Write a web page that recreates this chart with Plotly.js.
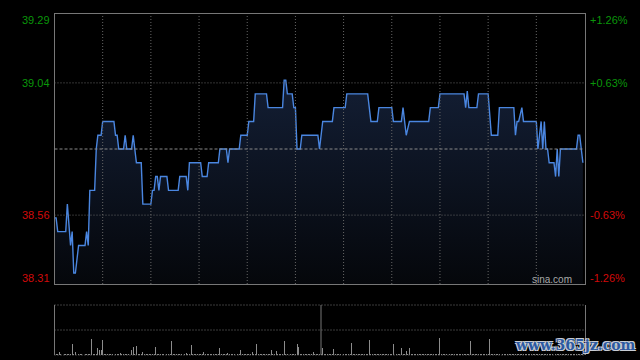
<!DOCTYPE html>
<html>
<head>
<meta charset="utf-8">
<script src="https://cdn.plot.ly/plotly-3.0.1.min.js"></script>
<style>html,body{margin:0;padding:0;background:#000;}#chart{width:640px;height:360px;}</style>
</head>
<body>
<div id="chart"></div>
<script>
// ---- data (minutes since open, HK session: 330 trading minutes) ----
const prevClose = 38.80;
const priceMinutes = [0,1,2,7,8,10,11,12,13,15,19,20,21,22,25,26,27,29,30,37,38,39,40,43,44,45,48,49,50,51,54,55,60,61,62,63,64,65,66,70,71,77,78,82,83,84,91,92,95,96,102,103,107,108,109,115,116,120,121,124,125,132,133,142,143,144,145,148,149,150,151,153,154,164,165,167,173,174,181,182,195,197,201,202,210,211,216,217,219,221,233,234,239,240,255,256,257,258,263,264,270,272,276,277,286,287,288,289,291,292,300,301,303,304,305,306,307,308,311,312,313,314,315,325,326,327,328,329];
const prices = [38.55,38.55,38.50,38.50,38.60,38.45,38.50,38.35,38.35,38.45,38.45,38.50,38.45,38.65,38.65,38.80,38.85,38.85,38.90,38.90,38.85,38.85,38.80,38.80,38.85,38.80,38.80,38.85,38.80,38.75,38.75,38.60,38.60,38.65,38.65,38.70,38.70,38.65,38.70,38.70,38.65,38.65,38.70,38.70,38.65,38.75,38.75,38.70,38.70,38.75,38.75,38.80,38.80,38.75,38.80,38.80,38.85,38.85,38.90,38.90,39.00,39.00,38.95,38.95,39.05,39.05,39.00,39.00,38.95,38.95,38.80,38.80,38.85,38.85,38.80,38.90,38.90,38.95,38.95,39.00,39.00,38.90,38.90,38.95,38.95,38.90,38.90,38.95,38.85,38.90,38.90,38.95,38.95,39.00,39.00,38.95,39.01,38.95,38.95,39.00,39.00,38.85,38.85,38.95,38.95,38.85,38.90,38.90,38.95,38.90,38.90,38.80,38.90,38.80,38.90,38.80,38.80,38.75,38.75,38.70,38.80,38.70,38.80,38.80,38.85,38.85,38.80,38.75];

// per-minute volume (relative units), minutes 0..330
const volumes = [
 5,1,1,2.7,1,0.5,1,1.5,1,1, 1,11,1,2.7,1,1,1.5,1,0.5,1, 1,1,1.5,16,1,1,1,7,5,5,
 15,1,1,1,1.5,1,1,0.5,1,1, 1,1.7,1,1,1.5,1,1,1,5,8, 1,9,1,1,1,2.7,1,1,1.5,1,
 1,1,1,8,1,1,1.5,1,1,0.5, 1,1,1,14,1,1,1,1,1.5,1, 1,1,2,1,1,10,1,1,1,1.5,
 1,1,1,2.7,1,1,1,1.5,1,1, 1,1,1,7,1,1,1,1,2,1, 1,1,1.5,2.7,1,1,5,1,1,1,
 1,1,1,2.7,1,1,11,1,1,1.5, 1,1,1,1,1,5,1,1,4,1, 1,1,1,14,1,1,5,1,1,1.5,
 1.5,11,8,1,1,1,1.5,1,1,1, 1,2.7,1,1,1,1,1,7,1,1, 1,1.5,1,1,6,1,1,1,1,1.5,
 1,1,1.5,1,1,12,1,1,1,1, 1,1.5,1,1,1,1,15,1,1,1, 1,1,1.5,1,1,1,1,1,1.5,1,
 1,11,1,1,1.5,1,7,1,1,4, 1,7,1,1,1,1.5,1,1,1,1, 1,1,1.5,1,1,1,1,1.5,1,1,
 17,1,1,1,1.5,1,1,1,1,1, 1,1.5,1,1,1,1,1,1,1.5,14, 1,1,1,1,1.5,1,1,1,1,1,
 1,16,1,1,1,1.5,1,1,1,1, 1,1,1.5,1,1,1,1,1,1,1, 1.5,1,1,1,1,1,1.5,1,1,1,
 1,1,1.5,1,1,1,1,1,1,1.5, 1,1,1,1,1,1,1.5,1,1,1, 1,1,1,1,1.5,1,1,1,1,1,
 1
];
const volMinutes = volumes.map((v, i) => i);

const gridMinutes = [30,60,90,120,150,180,210,240,270,300];
const priceTickVals = [39.29, 39.04, 38.56, 38.31];
const priceTickText = ['39.29', '39.04', '38.56', '38.31'];
const pctTickText = ['+1.26%', '+0.63%', '-0.63%', '-1.26%'];
const sessionMinutes = 330;
const volMax = 50;

// ---- styling ----
const GREEN = '#0a960a', RED = '#d20a0a';
const FONT = 'Liberation Sans, Arial, sans-serif';
const xDom = [54.5/640, 584.5/640];

const traces = [
  {
    x: priceMinutes, y: prices, type: 'scatter', mode: 'lines',
    line: {color: '#4a86e0', width: 1.4},
    fill: 'tozeroy',
    fillgradient: {type: 'vertical', start: 38.31, stop: 39.05,
      colorscale: [[0, 'rgb(5,7,11)'], [1, 'rgb(19,30,52)']]},
    xaxis: 'x', yaxis: 'y', hoverinfo: 'skip'
  },
  {
    x: volMinutes, y: volumes, type: 'bar', width: 0.6,
    marker: {color: '#8c8c8c', line: {width: 0}},
    xaxis: 'x2', yaxis: 'y2', hoverinfo: 'skip'
  }
];

const dotGrid = {color: '#666', width: 1, dash: '1px,2px'};
const shapes = [];
gridMinutes.forEach(m => shapes.push({type: 'line', layer: 'above', xref: 'x', yref: 'y domain', x0: m, x1: m, y0: 0, y1: 1, line: dotGrid}));
[priceTickVals[1], priceTickVals[2]].forEach(v => shapes.push({type: 'line', layer: 'above', xref: 'x domain', yref: 'y', x0: 0, x1: 1, y0: v, y1: v, line: dotGrid}));
shapes.push({type: 'line', layer: 'above', xref: 'x domain', yref: 'y', x0: 0, x1: 1, y0: prevClose, y1: prevClose, line: {color: '#8a8a8a', width: 1, dash: '3px,2px'}});
// volume panel guides
[1, 0.5, 0].forEach(f => shapes.push({type: 'line', layer: 'above', xref: 'x2 domain', yref: 'y2 domain', x0: 0, x1: 1, y0: f, y1: f, line: {color: '#777', width: 1, dash: '1px,2px'}}));
shapes.push({type: 'line', layer: 'above', xref: 'paper', yref: 'y2 domain', x0: 321/640, x1: 321/640, y0: 0, y1: 1, line: {color: '#777', width: 1}});

const annotations = [];
const shifts = [-6, 0, 0, 6];
priceTickVals.forEach((v, i) => {
  const col = v > prevClose ? GREEN : RED;
  annotations.push({xref: 'paper', yref: 'y', x: 52/640, y: v, yshift: shifts[i], xanchor: 'right', yanchor: 'middle', showarrow: false, text: priceTickText[i], font: {family: FONT, size: 11, color: col}});
  annotations.push({xref: 'paper', yref: 'y', x: 588/640, y: v, yshift: shifts[i], xanchor: 'left', yanchor: 'middle', showarrow: false, text: pctTickText[i], font: {family: FONT, size: 11, color: col}});
});
annotations.push({xref: 'paper', yref: 'paper', x: 574/640, y: 1 - 279/360, xanchor: 'right', yanchor: 'middle', showarrow: false, text: 'sina.com', font: {family: FONT, size: 10, color: '#a8a8a8'}});
annotations.push({xref: 'paper', yref: 'paper', x: 575/640, y: 1 - 345/360, xanchor: 'center', yanchor: 'middle', showarrow: false, text: '<b>www.365jz.com</b>',
  font: {family: 'DejaVu Serif, serif', size: 14, color: '#2c5aa2', shadow: '1px 1px 0 #c8ccd4, -1px -1px 0 #c8ccd4, 1px -1px 0 #c8ccd4, -1px 1px 0 #c8ccd4'}});

const axBase = {showgrid: false, zeroline: false, showticklabels: false, ticks: '', fixedrange: true};
const layout = {
  width: 640, height: 360,
  margin: {l: 0, r: 0, t: 0, b: 0},
  paper_bgcolor: '#000', plot_bgcolor: '#000',
  showlegend: false, bargap: 0,
  xaxis: Object.assign({}, axBase, {domain: xDom, range: [0, sessionMinutes], showline: true, mirror: true, linecolor: '#777', linewidth: 1, anchor: 'y'}),
  yaxis: Object.assign({}, axBase, {domain: [1 - 284/360, 1 - 14/360], range: [priceTickVals[3], priceTickVals[0]], showline: true, mirror: true, linecolor: '#777', linewidth: 1, anchor: 'x'}),
  xaxis2: Object.assign({}, axBase, {domain: xDom, range: [0, sessionMinutes], anchor: 'y2'}),
  yaxis2: Object.assign({}, axBase, {domain: [1 - 355/360, 1 - 305/360], range: [0, volMax], showline: true, mirror: true, linecolor: '#777', linewidth: 1, anchor: 'x2'}),
  shapes: shapes,
  annotations: annotations
};

Plotly.newPlot('chart', traces, layout, {staticPlot: true, displayModeBar: false});
</script>
</body>
</html>
